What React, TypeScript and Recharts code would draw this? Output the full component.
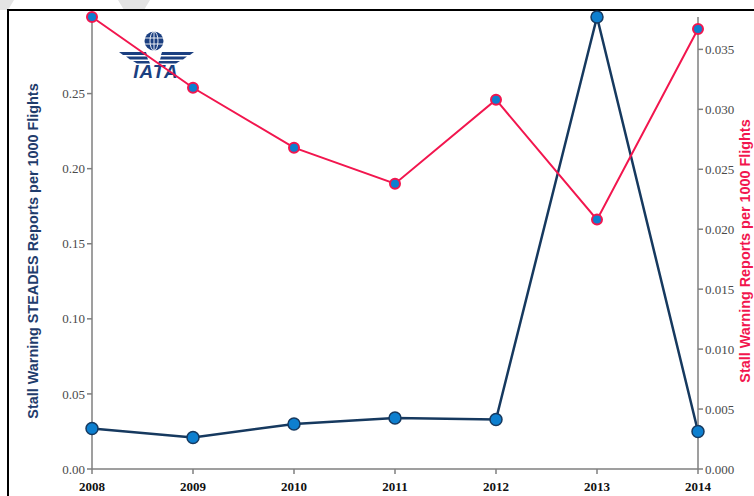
import { LineChart, Line, XAxis, YAxis } from "recharts";

// Reports per 1000 flights
const YEARS = ["2008", "2009", "2010", "2011", "2012", "2013", "2014"];
const STEADES = [0.027, 0.021, 0.03, 0.034, 0.033, 0.301, 0.025];
const STALL = [0.0377, 0.0318, 0.0268, 0.0238, 0.0308, 0.0208, 0.0367];
const LEFT_TICKS = [0, 0.05, 0.1, 0.15, 0.2, 0.25];
const RIGHT_TICKS = [0, 0.005, 0.01, 0.015, 0.02, 0.025, 0.03, 0.035];

const NAVY = "#16395f";
const DOT_BLUE = "#0d7fcf";
const RED = "#f2164e";
const AXIS = "#7f7f7f";
const TICK_TXT = "#4a4a4a";
const SERIF = '"Liberation Serif", "DejaVu Serif", serif';
const SANS = '"Liberation Sans", Arial, sans-serif';

const data = YEARS.map((year, i) => ({ year, steades: STEADES[i], stall: STALL[i] }));

function IataLogo() {
  const c = "#1b3f80";
  return (
    <svg
      width={80}
      height={56}
      style={{ position: "absolute", left: 117, top: 30 }}
      viewBox="0 0 80 56"
    >
      <circle cx={37} cy={11} r={9.5} fill={c} />
      <g stroke="#fff" strokeWidth={0.9} fill="none">
        <ellipse cx={37} cy={11} rx={4} ry={9.5} />
        <line x1={37} y1={1.5} x2={37} y2={20.5} />
        <line x1={28} y1={8} x2={46} y2={8} />
        <line x1={28} y1={14} x2={46} y2={14} />
      </g>
      <g fill={c}>
        <polygon points="2,22 29,22 30,25 6,25" />
        <polygon points="9,26.5 30,26.5 31,29.5 13,29.5" />
        <polygon points="16,31 32,31 33,33.5 20,33.5" />
        <polygon points="77,22 45,22 44,25 73,25" />
        <polygon points="70,26.5 44,26.5 43,29.5 66,29.5" />
        <polygon points="63,31 42,31 41,33.5 59,33.5" />
      </g>
      <text
        x={39}
        y={48}
        textAnchor="middle"
        fill={c}
        fontFamily={SANS}
        fontWeight="bold"
        fontStyle="italic"
        fontSize={19}
        letterSpacing={1}
      >
        IATA
      </text>
    </svg>
  );
}

export default function App() {
  return (
    <div
      style={{
        position: "absolute",
        left: 0,
        top: 0,
        width: 754,
        height: 496,
        background: "#fff",
        overflow: "hidden",
      }}
    >
      <svg width={754} height={20} style={{ position: "absolute", left: 0, top: 0 }}>
        <polygon points="0,0 14,0 8,10 0,10" fill="#e4e4e4" />
        <polygon points="118,0 150,0 144,10 124,10" fill="#e4e4e4" />
      </svg>
      <div
        style={{
          position: "absolute",
          left: 7,
          top: 9,
          width: 760,
          height: 500,
          borderTop: "2.5px solid #000",
          borderLeft: "2.5px solid #000",
        }}
      />
      <IataLogo />
      <div style={{ position: "absolute", left: 0, top: 0 }}>
        <LineChart
          width={754}
          height={496}
          data={data}
          margin={{ top: 17, right: 0, left: 0, bottom: 0 }}
        >
          <XAxis
            dataKey="year"
            height={27}
            stroke={AXIS}
            strokeWidth={1.5}
            tickSize={5}
            tickMargin={8}
            tick={{ fontSize: 13, fill: "#111", fontFamily: SERIF, fontWeight: "bold" }}
          />
          <YAxis
            yAxisId="left"
            width={92}
            domain={[0, "dataMax"]}
            ticks={LEFT_TICKS}
            tickFormatter={(v: number) => v.toFixed(2)}
            stroke={AXIS}
            strokeWidth={1.5}
            tickSize={5}
            tickMargin={2}
            tick={{ fontSize: 13, fill: TICK_TXT, fontFamily: SERIF }}
            label={{
              content: () => (
                <text
                  x={33}
                  y={251}
                  transform="rotate(-90, 33, 251)"
                  textAnchor="middle"
                  dominantBaseline="central"
                  fill="#1f3c6c"
                  fontFamily={SANS}
                  fontWeight="bold"
                  fontSize={14.4}
                >
                  Stall Warning STEADES Reports per 1000 Flights
                </text>
              ),
            }}
          />
          <YAxis
            yAxisId="right"
            orientation="right"
            width={56}
            domain={[0, "dataMax"]}
            ticks={RIGHT_TICKS}
            tickFormatter={(v: number) => v.toFixed(3)}
            stroke={AXIS}
            strokeWidth={1.5}
            tickSize={5}
            tickMargin={2}
            tick={{ fontSize: 13, fill: TICK_TXT, fontFamily: SERIF }}
            label={{
              content: () => (
                <text
                  x={745}
                  y={251}
                  transform="rotate(-90, 745, 251)"
                  textAnchor="middle"
                  dominantBaseline="central"
                  fill={RED}
                  fontFamily={SANS}
                  fontWeight="bold"
                  fontSize={14.4}
                >
                  Stall Warning Reports per 1000 Flights
                </text>
              ),
            }}
          />
          <Line
            yAxisId="left"
            dataKey="steades"
            type="linear"
            stroke={NAVY}
            strokeWidth={2.5}
            dot={{ r: 6, fill: DOT_BLUE, stroke: NAVY, strokeWidth: 1.5 }}
            isAnimationActive={false}
          />
          <Line
            yAxisId="right"
            dataKey="stall"
            type="linear"
            stroke={RED}
            strokeWidth={2}
            dot={{ r: 5, fill: DOT_BLUE, stroke: RED, strokeWidth: 2 }}
            isAnimationActive={false}
          />
        </LineChart>
      </div>
    </div>
  );
}
